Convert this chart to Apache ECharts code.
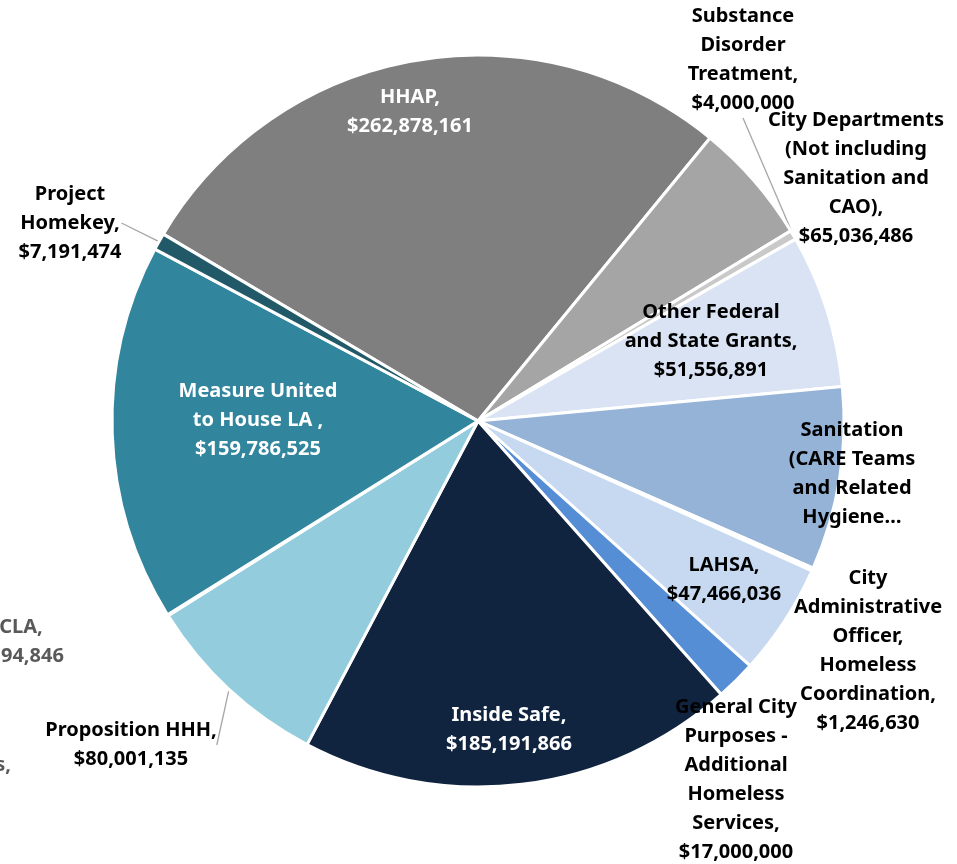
<!DOCTYPE html>
<html>
<head>
<meta charset="utf-8">
<script src="https://cdn.jsdelivr.net/npm/echarts@6/dist/echarts.min.js"></script>
<style>
  html, body { margin: 0; padding: 0; background: #fff; }
  #pie { width: 957px; height: 864px; }
</style>
</head>
<body>
<div id="pie"></div>
<script>
// funding sources, clockwise from the HHAP slice
const sources = [
  'HHAP',
  'Other Federal\nand State Grants',
  'Substance\nDisorder\nTreatment',
  'City Departments\n(Not including\nSanitation and\nCAO)',
  'Sanitation\n(CARE Teams\nand Related\nHygiene…',
  'City\nAdministrative\nOfficer,\nHomeless\nCoordination',
  'LAHSA',
  'General City\nPurposes -\nAdditional\nHomeless\nServices',
  'Inside Safe',
  'Proposition HHH',
  'Other Special Funds',
  'CLA',
  'Measure United\nto House LA ',
  'Project\nHomekey'
]
const amounts = [
  262878161, 51556891, 4000000, 65036486, 77500000, 1246630, 47466036,
  17000000, 185191866, 80001135, 250000, 194846, 159786525, 7191474
]

const sliceColors = [
  '#7f7f7f', '#a5a5a5', '#c9c9c9', '#dae3f3', '#95b3d7', '#ffffff', '#c6d9f1',
  '#558ed5', '#11243f', '#93cddd', '#ffffff', '#ffffff', '#31859c', '#215968'
]
const textColors = [
  '#fff', '#000', '#000', '#000', '#000', '#000', '#000',
  '#000', '#fff', '#000', '#595959', '#595959', '#fff', '#000'
]
const insideLabels = [0, 1, 4, 6, 8, 12]
const withLeader = [2, 9, 13]
// where each label block is centred on the page
const labelSpots = [
  [410, 112], [711, 341], [743, 60], [856, 178], [852, 474], [868, 651], [724, 580],
  [736, 780], [509, 730], [131, 745], [-91, 780], [21, 642], [258, 420], [70, 223]
]

const money = v => '$' + v.toLocaleString('en-US')

const chart = echarts.init(document.getElementById('pie'))

chart.setOption({
  animation: false,
  series: [{
    type: 'pie',
    center: [478, 421],
    radius: 366,
    startAngle: 149.3,
    clockwise: true,
    avoidLabelOverlap: false,
    itemStyle: { borderColor: '#fff', borderWidth: 3 },
    label: {
      position: 'outside',
      fontFamily: 'Noto Sans',
      fontWeight: 'bold',
      fontSize: 20,
      lineHeight: 29,
      formatter: p => p.name.endsWith('…') ? p.name : p.name + ',\n' + money(p.value)
    },
    labelLine: { show: false, length: 0, length2: 0, lineStyle: { color: '#a6a6a6', width: 1.3 } },
    labelLayout: p => {
      const s = labelSpots[p.dataIndex]
      return { x: s[0], y: s[1], align: 'center', verticalAlign: 'middle' }
    },
    data: sources.map((name, i) => ({
      name: name,
      value: amounts[i],
      itemStyle: { color: sliceColors[i] },
      label: {
        color: textColors[i],
        position: insideLabels.includes(i) ? 'inside' : 'outside'
      },
      labelLine: { show: withLeader.includes(i) }
    }))
  }]
})
</script>
</body>
</html>
